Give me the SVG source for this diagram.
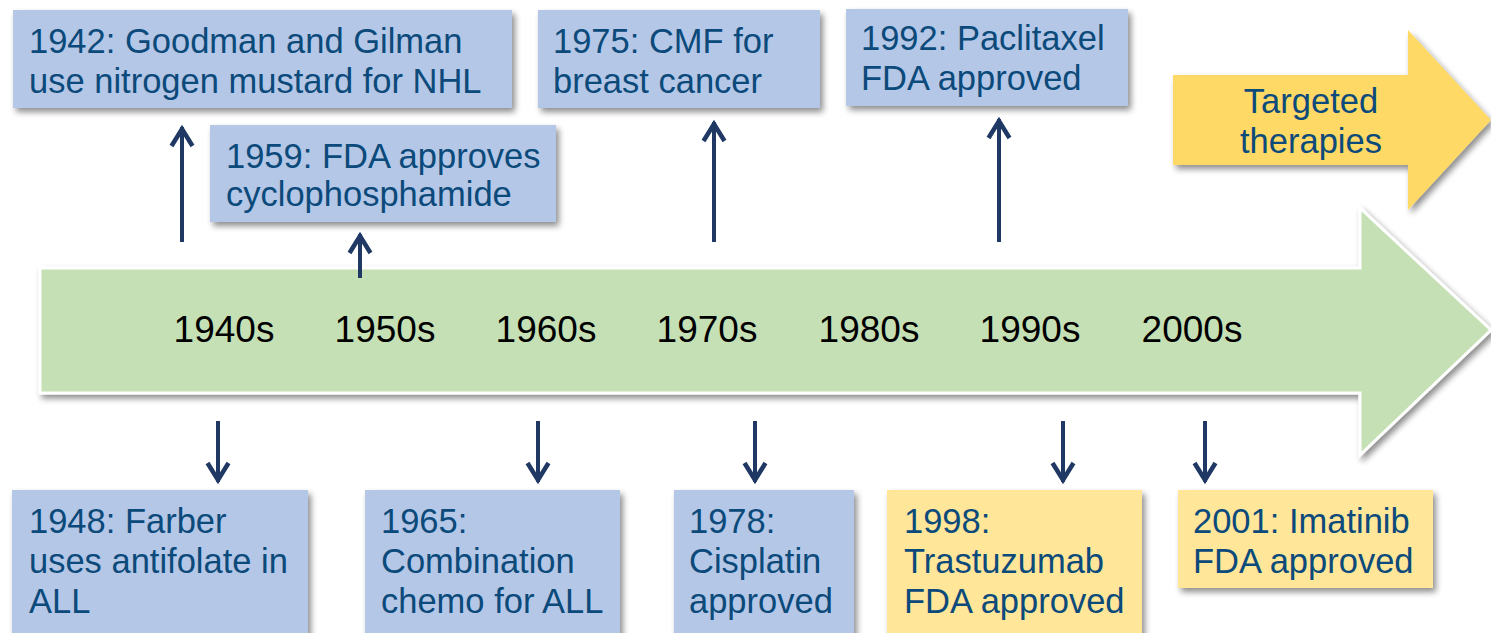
<svg xmlns="http://www.w3.org/2000/svg" width="1491" height="633" viewBox="0 0 1491 633">
  <defs>
    <filter id="shadow" x="-10%" y="-10%" width="125%" height="130%">
      <feGaussianBlur in="SourceAlpha" stdDeviation="3"/>
      <feOffset dx="3" dy="4" result="b"/>
      <feComponentTransfer><feFuncA type="linear" slope="0.45"/></feComponentTransfer>
      <feMerge><feMergeNode/><feMergeNode in="SourceGraphic"/></feMerge>
    </filter>
    <marker id="head" viewBox="-24 -14 28 28" refX="0" refY="0" markerWidth="28" markerHeight="28" markerUnits="userSpaceOnUse" orient="auto">
      <path d="M-19,-10.5 L-2,0 L-19,10.5" fill="none" stroke="#1F3864" stroke-width="4.5" stroke-linejoin="miter"/>
    </marker>
    <style>
      .box { fill: #B4C7E7; filter: url(#shadow); }
      .ybox { fill: #FFE699; filter: url(#shadow); }
      .lbl { font-family: "Liberation Sans", Arial, sans-serif; font-size: 34.5px; fill: #0B4A7A; }
      .dec { font-family: "Liberation Sans", Arial, sans-serif; font-size: 37px; fill: #000000; text-anchor: middle; }
      .conn { stroke: #1F3864; stroke-width: 4; fill: none; marker-end: url(#head); }
    </style>
  </defs>
  <rect width="1491" height="633" fill="#FFFFFF"/>

  <!-- timeline arrow -->
  <g id="timeline">
    <path d="M40,268 L1360,268 L1360,208 L1491,330 L1360,455 L1360,393 L40,393 Z" fill="#C5E0B4" stroke="#FFFFFF" stroke-width="3" filter="url(#shadow)"/>
    <text class="dec" x="224" y="342">1940s</text>
    <text class="dec" x="385" y="342">1950s</text>
    <text class="dec" x="546" y="342">1960s</text>
    <text class="dec" x="707" y="342">1970s</text>
    <text class="dec" x="869" y="342">1980s</text>
    <text class="dec" x="1030" y="342">1990s</text>
    <text class="dec" x="1192" y="342">2000s</text>
  </g>

  <!-- targeted therapies arrow -->
  <g id="targeted">
    <path d="M1173,75 L1408,75 L1408,30 L1491,120 L1408,210 L1408,165 L1173,165 Z" fill="#FFD966" filter="url(#shadow)"/>
    <text class="lbl" x="1311" y="113" text-anchor="middle">Targeted</text>
    <text class="lbl" x="1311" y="153" text-anchor="middle">therapies</text>
  </g>

  <!-- events above the timeline -->
  <g id="e1942">
    <rect class="box" x="13" y="10" width="499" height="98"/>
    <text class="lbl" x="29" y="53">1942: Goodman and Gilman</text>
    <text class="lbl" x="29" y="93">use nitrogen  mustard for NHL</text>
  </g>
  <g id="e1959">
    <rect class="box" x="210" y="125" width="346" height="97"/>
    <text class="lbl" x="226" y="168">1959: FDA approves</text>
    <text class="lbl" x="226" y="206">cyclophosphamide</text>
  </g>
  <g id="e1975">
    <rect class="box" x="538" y="10" width="282" height="98"/>
    <text class="lbl" x="553" y="53">1975: CMF for</text>
    <text class="lbl" x="553" y="93">breast cancer</text>
  </g>
  <g id="e1992">
    <rect class="box" x="846" y="9" width="282" height="97"/>
    <text class="lbl" x="861" y="50">1992: Paclitaxel</text>
    <text class="lbl" x="861" y="90">FDA approved</text>
  </g>

  <!-- events below the timeline -->
  <g id="e1948">
    <rect class="box" x="12" y="490" width="296" height="150"/>
    <text class="lbl" x="29" y="533">1948: Farber</text>
    <text class="lbl" x="29" y="573">uses antifolate in</text>
    <text class="lbl" x="29" y="613">ALL</text>
  </g>
  <g id="e1965">
    <rect class="box" x="365" y="490" width="255" height="150"/>
    <text class="lbl" x="381" y="533">1965:</text>
    <text class="lbl" x="381" y="573">Combination</text>
    <text class="lbl" x="381" y="613">chemo for ALL</text>
  </g>
  <g id="e1978">
    <rect class="box" x="674" y="490" width="180" height="150"/>
    <text class="lbl" x="689" y="533">1978:</text>
    <text class="lbl" x="689" y="573">Cisplatin</text>
    <text class="lbl" x="689" y="613">approved</text>
  </g>
  <g id="e1998">
    <rect class="ybox" x="887" y="490" width="255" height="150"/>
    <text class="lbl" x="904" y="533">1998:</text>
    <text class="lbl" x="904" y="573">Trastuzumab</text>
    <text class="lbl" x="904" y="613">FDA approved</text>
  </g>
  <g id="e2001">
    <rect class="ybox" x="1178" y="490" width="255" height="98"/>
    <text class="lbl" x="1193" y="533">2001: Imatinib</text>
    <text class="lbl" x="1193" y="573">FDA approved</text>
  </g>

  <!-- connectors -->
  <g id="connectors">
    <line class="conn" x1="182" y1="242" x2="182" y2="127"/>
    <line class="conn" x1="360" y1="278" x2="360" y2="234"/>
    <line class="conn" x1="714" y1="242" x2="714" y2="122"/>
    <line class="conn" x1="999" y1="242" x2="999" y2="119"/>
    <line class="conn" x1="218" y1="421" x2="218" y2="482"/>
    <line class="conn" x1="538" y1="421" x2="538" y2="482"/>
    <line class="conn" x1="755" y1="421" x2="755" y2="482"/>
    <line class="conn" x1="1063" y1="421" x2="1063" y2="482"/>
    <line class="conn" x1="1205" y1="421" x2="1205" y2="482"/>
  </g>
</svg>
